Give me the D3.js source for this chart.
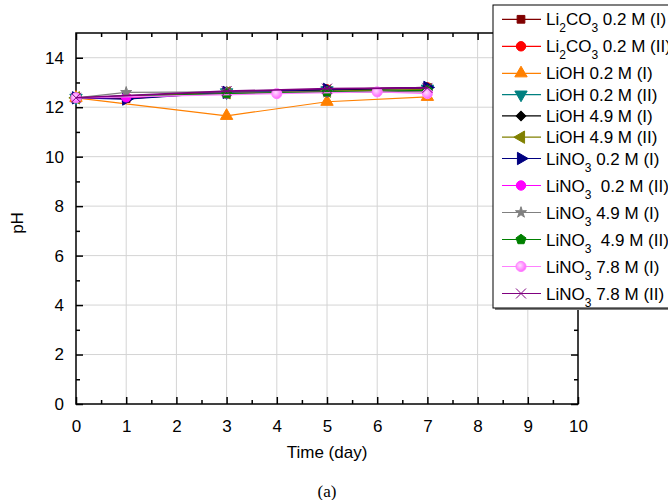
<!DOCTYPE html>
<html lang="en">
<head>
<meta charset="UTF-8">
<title>pH vs time</title>
<style>
    body { margin: 0; background: #fff; }
    svg { display: block; }
    text { font-family: "Liberation Sans", Arial, sans-serif; fill: #000; }
    .cap { font-family: "Liberation Serif", "Times New Roman", serif; }
</style>
</head>
<body>
<svg id="chart" width="668" height="500"></svg>
<script src="https://d3js.org/d3.v7.min.js"></script>
<script>
    // series labels ({n} = subscript)
    const seriesNames = [
        'Li{2}CO{3} 0.2 M (I)', 'Li{2}CO{3} 0.2 M (II)',
        'LiOH 0.2 M (I)', 'LiOH 0.2 M (II)', 'LiOH 4.9 M (I)', 'LiOH 4.9 M (II)',
        'LiNO{3} 0.2 M (I)', 'LiNO{3}  0.2 M (II)', 'LiNO{3} 4.9 M (I)',
        'LiNO{3}  4.9 M (II)', 'LiNO{3} 7.8 M (I)', 'LiNO{3} 7.8 M (II)'
    ];
    const seriesDays = [
        [0, 1, 3, 5, 7], [0, 1, 3, 5, 7],
        [0, 3, 5, 7], [0, 3, 5, 7], [0, 3, 5, 7], [0, 3, 5, 7],
        [0, 1, 3, 5, 7], [0, 1, 3, 5, 7], [0, 1, 3, 5, 7],
        [0, 3, 5, 7], [0, 4, 6, 7], [0, 3, 5, 7]
    ];
    const seriesPH = [
        [12.38, 12.35, 12.60, 12.70, 12.78], [12.38, 12.40, 12.62, 12.72, 12.80],
        [12.38, 11.65, 12.22, 12.42], [12.38, 12.60, 12.68, 12.75],
        [12.38, 12.62, 12.70, 12.78], [12.38, 12.58, 12.65, 12.72],
        [12.38, 12.33, 12.60, 12.72, 12.80], [12.38, 12.40, 12.55, 12.62, 12.65],
        [12.38, 12.60, 12.62, 12.60, 12.62], [12.38, 12.55, 12.62, 12.68],
        [12.38, 12.55, 12.62, 12.55], [12.38, 12.65, 12.75, 12.78]
    ];
    const xTicks = d3.range(0, 11, 1);
    const yTicks = d3.range(0, 15, 2);

    const colors = ['#800000', '#ff0000', '#ff8000', '#008080', '#000000', '#808000',
        '#000080', '#ff00ff', '#808080', '#008000', '#ff80ff', '#800080'];
    const shapes = ['square', 'circle', 'up', 'down', 'diamond', 'left',
        'right', 'circle', 'star', 'pentagon', 'ball', 'x'];

    const svg = d3.select('#chart');
    const m = { left: 76, right: 578, top: 33, bottom: 404 };
    const x = d3.scaleLinear().domain([0, 10]).range([m.left, m.right]);
    const y = d3.scaleLinear().domain([0, 15]).range([m.bottom, m.top]);

    const defs = svg.append('defs');
    const grad = defs.append('radialGradient').attr('id', 'ball')
        .attr('cx', '40%').attr('cy', '40%').attr('r', '60%');
    grad.append('stop').attr('offset', '0%').attr('stop-color', '#ffe0ff');
    grad.append('stop').attr('offset', '100%').attr('stop-color', '#ff66ff');

    // grid
    svg.append('g').selectAll('line').data(xTicks.slice(1, -1)).join('line')
        .attr('x1', d => x(d)).attr('x2', d => x(d))
        .attr('y1', m.top).attr('y2', m.bottom)
        .attr('stroke', '#d4d4d4').attr('stroke-width', 1);
    svg.append('g').selectAll('line').data(yTicks.slice(1)).join('line')
        .attr('y1', d => y(d)).attr('y2', d => y(d))
        .attr('x1', m.left).attr('x2', m.right)
        .attr('stroke', '#d4d4d4').attr('stroke-width', 1);

    // axes, ticks inward
    const tickFont = g => g.selectAll('text')
        .style('font-size', '17px').style('font-family', '"Liberation Sans", Arial, sans-serif');
    const minorX = d3.range(0.5, 10, 1);
    const minorY = d3.range(1, 15, 2);

    svg.append('g').attr('transform', `translate(0,${m.bottom})`)
        .call(d3.axisBottom(x).tickValues(xTicks).tickSize(-7).tickPadding(16).tickFormat(d3.format('d')))
        .call(g => g.select('.domain').remove())
        .call(tickFont);
    svg.append('g').attr('transform', `translate(0,${m.bottom})`)
        .call(d3.axisBottom(x).tickValues(minorX).tickSize(-4).tickFormat(''))
        .call(g => g.select('.domain').remove());
    svg.append('g').attr('transform', `translate(0,${m.top})`)
        .call(d3.axisTop(x).tickValues(xTicks).tickSize(-7).tickFormat(''))
        .call(g => g.select('.domain').remove());
    svg.append('g').attr('transform', `translate(0,${m.top})`)
        .call(d3.axisTop(x).tickValues(minorX).tickSize(-4).tickFormat(''))
        .call(g => g.select('.domain').remove());

    svg.append('g').attr('transform', `translate(${m.left},0)`)
        .call(d3.axisLeft(y).tickValues(yTicks).tickSize(-7).tickPadding(12).tickFormat(d3.format('d')))
        .call(g => g.select('.domain').remove())
        .call(tickFont);
    svg.append('g').attr('transform', `translate(${m.left},0)`)
        .call(d3.axisLeft(y).tickValues(minorY).tickSize(-4).tickFormat(''))
        .call(g => g.select('.domain').remove());
    svg.append('g').attr('transform', `translate(${m.right},0)`)
        .call(d3.axisRight(y).tickValues(yTicks).tickSize(-7).tickFormat(''))
        .call(g => g.select('.domain').remove());
    svg.append('g').attr('transform', `translate(${m.right},0)`)
        .call(d3.axisRight(y).tickValues(minorY).tickSize(-4).tickFormat(''))
        .call(g => g.select('.domain').remove());
    svg.selectAll('.tick line').attr('stroke', '#000').attr('stroke-width', 1.5);

    svg.append('rect')
        .attr('x', m.left).attr('y', m.top)
        .attr('width', m.right - m.left).attr('height', m.bottom - m.top)
        .attr('fill', 'none').attr('stroke', '#000').attr('stroke-width', 1.5);

    // axis titles
    svg.append('text').attr('x', 327).attr('y', 458).attr('text-anchor', 'middle')
        .style('font-size', '17px').text('Time (day)');
    svg.append('text').attr('transform', 'translate(23,223) rotate(-90)')
        .attr('text-anchor', 'middle').style('font-size', '17px').text('pH');
    svg.append('text').attr('class', 'cap').attr('x', 327).attr('y', 497)
        .attr('text-anchor', 'middle').style('font-size', '17px').text('(a)');

    // marker drawing
    function pentagonPath(r) {
        return d3.range(5).map(i => {
            const a = -Math.PI / 2 + i * 2 * Math.PI / 5;
            return [r * Math.cos(a), r * Math.sin(a)];
        }).map((p, i) => (i ? 'L' : 'M') + p[0].toFixed(2) + ',' + p[1].toFixed(2)).join('') + 'Z';
    }
    function drawMarker(g, shape, color) {
        const sym = (t, s) => d3.symbol().type(t).size(s)();
        let path, rot = 0, fill = color, stroke = color;
        if (shape === 'square') path = sym(d3.symbolSquare, 60);
        else if (shape === 'circle') path = sym(d3.symbolCircle, 70);
        else if (shape === 'up') path = sym(d3.symbolTriangle, 66);
        else if (shape === 'down') { path = sym(d3.symbolTriangle, 66); rot = 180; }
        else if (shape === 'left') { path = sym(d3.symbolTriangle, 66); rot = -90; }
        else if (shape === 'right') { path = sym(d3.symbolTriangle, 66); rot = 90; }
        else if (shape === 'diamond') { path = sym(d3.symbolSquare, 46); rot = 45; }
        else if (shape === 'star') path = sym(d3.symbolStar, 38);
        else if (shape === 'pentagon') path = pentagonPath(5.2);
        else if (shape === 'ball') { path = sym(d3.symbolCircle, 80); fill = 'url(#ball)'; stroke = '#ff80ff'; }
        else if (shape === 'x') { path = 'M-5,-5L5,5M-5,5L5,-5'; fill = 'none'; }
        g.append('path').attr('d', path)
            .attr('transform', `rotate(${rot})`)
            .attr('fill', fill).attr('stroke', stroke).attr('stroke-width', 1);
    }

    // series
    const line = d3.line().x(d => x(d[0])).y(d => y(d[1]));
    seriesNames.forEach((name, i) => {
        const pts = seriesDays[i].map((d, j) => [d, seriesPH[i][j]]);
        svg.append('path').datum(pts).attr('d', line)
            .attr('fill', 'none').attr('stroke', colors[i])
            .attr('stroke-width', i === 11 ? 1.6 : 1.2);
        pts.forEach(p => {
            const g = svg.append('g').attr('transform', `translate(${x(p[0])},${y(p[1])})`);
            drawMarker(g, shapes[i], colors[i]);
        });
    });

    // legend
    const lg = svg.append('g');
    lg.append('rect').attr('x', 495).attr('y', 7).attr('width', 200).attr('height', 303)
        .attr('fill', '#808080');
    lg.append('rect').attr('x', 493).attr('y', 5).attr('width', 200).attr('height', 303)
        .attr('fill', '#fff').attr('stroke', '#000').attr('stroke-width', 1);
    let rowY = 19.3;
    seriesNames.forEach((name, i) => {
        const row = lg.append('g').attr('transform', `translate(0,${rowY})`);
        row.append('line').attr('x1', 502).attr('x2', 541)
            .attr('stroke', colors[i]).attr('stroke-width', 1.2);
        const mk = row.append('g').attr('transform', 'translate(521,0)');
        drawMarker(mk, shapes[i], colors[i]);
        const t = row.append('text').attr('x', 546).attr('y', 6)
            .attr('xml:space', 'preserve').style('font-size', '17px');
        name.split(/(\{\d\})/).filter(s => s.length).forEach(part => {
            if (part[0] === '{') {
                t.append('tspan').attr('dy', 7).style('font-size', '12px').text(part.slice(1, -1));
            } else {
                const sp = t.append('tspan').text(part);
                if (t.selectAll('tspan').size() > 1 && /\{\d\}$/.test(name.slice(0, name.indexOf(part)))) sp.attr('dy', -7);
            }
        });
        rowY += name.includes('{') ? 27 : 21.3;
    });
</script>
</body>
</html>
